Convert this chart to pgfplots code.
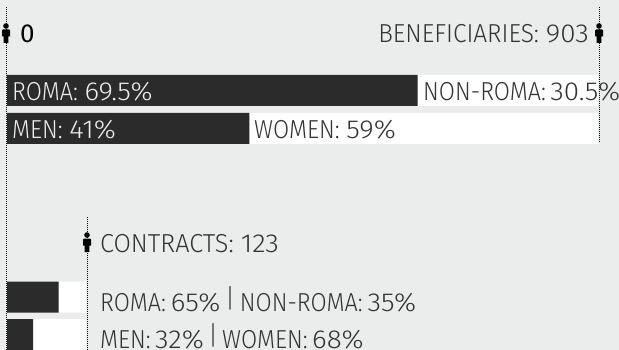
\documentclass[border=0pt]{standalone}
\usepackage{pgfplots}
\pgfplotsset{compat=1.18}
\usepackage{fontspec}
\setmainfont{Fira Sans}[UprightFont=* Light,FakeStretch=0.90,Scale=1]
\newfontfamily\regfont{Fira Sans}[FakeStretch=1.0]
\newfontfamily\numf{Fira Sans}[UprightFont=* Light,FakeStretch=1.07]
\newfontfamily\widef{Fira Sans}[UprightFont=* Light,FakeStretch=0.97]
\newfontfamily\midf{Fira Sans}[UprightFont=* Light,FakeStretch=0.94]
\newcommand{\num}[1]{{\numf #1}}
\definecolor{bg}{HTML}{EBEDEC}
\definecolor{dark}{HTML}{2B2B2B}
\definecolor{ink}{HTML}{333333}
\newcommand{\vb}{\raisebox{3.5pt}{|}}
\pgfdeclareplotmark{person}{%
  \pgfpathcircle{\pgfpoint{0pt}{7pt}}{2.8pt}\pgfusepathqfill
  \pgfpathmoveto{\pgfpoint{-3pt}{3.5pt}}
  \pgfpathlineto{\pgfpoint{3pt}{3.5pt}}
  \pgfpathlineto{\pgfpoint{4pt}{2.5pt}}
  \pgfpathlineto{\pgfpoint{4pt}{-3.5pt}}
  \pgfpathlineto{\pgfpoint{2.4pt}{-3.5pt}}
  \pgfpathlineto{\pgfpoint{2.4pt}{-10pt}}
  \pgfpathlineto{\pgfpoint{-2.4pt}{-10pt}}
  \pgfpathlineto{\pgfpoint{-2.4pt}{-3.5pt}}
  \pgfpathlineto{\pgfpoint{-4pt}{-3.5pt}}
  \pgfpathlineto{\pgfpoint{-4pt}{2.5pt}}
  \pgfpathclose\pgfusepathqfill
}
\pgfplotsset{
  barax/.style={scale only axis,hide axis,xbar stacked,xmin=0,xmax=100,ymin=-0.5,ymax=1.5,clip=false},
  dotline/.style={black,line width=0.8pt,dash pattern=on 1pt off 1pt,forget plot},
}
\tikzset{lbl/.style={anchor=base west,inner sep=0pt,text=ink,font=\fontsize{26}{26}\selectfont}}
\begin{document}
\begin{tikzpicture}[x=1pt,y=1pt]
\useasboundingbox (0,0) rectangle (619,350);
\clip (0,0) rectangle (619,350);
\fill[bg] (0,0) rectangle (619,350);
\begin{axis}[barax,at={(7pt,202.5pt)},anchor=south west,width=591pt,height=76pt,bar width=31pt]
\addplot[fill=dark,draw=none] coordinates {(41,0) (69.5,1)};
\addplot[fill=white,draw=none] coordinates {(59,0) (30.5,1)};
\end{axis}
\begin{axis}[barax,at={(7pt,-3.5pt)},anchor=south west,width=79pt,height=75pt,bar width=31pt]
\addplot[fill=dark,draw=none] coordinates {(33,0) (65.5,1)};
\addplot[fill=white,draw=none] coordinates {(67,0) (34.5,1)};
\end{axis}
\begin{axis}[scale only axis,hide axis,at={(0pt,0pt)},anchor=south west,width=619pt,height=350pt,
  xmin=0,xmax=619,ymin=0,ymax=350,y dir=reverse,clip=false]
\addplot[dotline] coordinates {(6,7) (6,350)};
\addplot[dotline] coordinates {(599,7) (599,143)};
\addplot[dotline] coordinates {(87,217) (87,350)};
\addplot[only marks,mark=person,black,forget plot] coordinates {(6,33) (599,33) (87,242)};
\node[lbl,text=black] at (axis cs:20,43) {\regfont 0};
\node[lbl,anchor=base east] at (axis cs:589,43) {\midf BENEFICIARIES: \num{903}};
\node[lbl,text=bg] at (axis cs:12,101) {ROMA: \num{69.5\%}};
\node[lbl] at (axis cs:423,101) {\spaceskip=.17em NON-ROMA: \num{30.5\%}};
\node[lbl,text=bg] at (axis cs:12,139) {MEN: \num{41\%}};
\node[lbl] at (axis cs:254,139) {WOMEN: \num{59\%}};
\node[lbl] at (axis cs:100,252) {\widef CONTRACTS: \num{123}};
\node[lbl] at (axis cs:100,311) {\spaceskip=.19em ROMA: \num{65\%} \vb{} NON-ROMA: \num{35\%}};
\node[lbl] at (axis cs:100,348) {\spaceskip=.17em MEN: \num{32\%} \vb{} WOMEN: \num{68\%}};
\end{axis}
\end{tikzpicture}
\end{document}
